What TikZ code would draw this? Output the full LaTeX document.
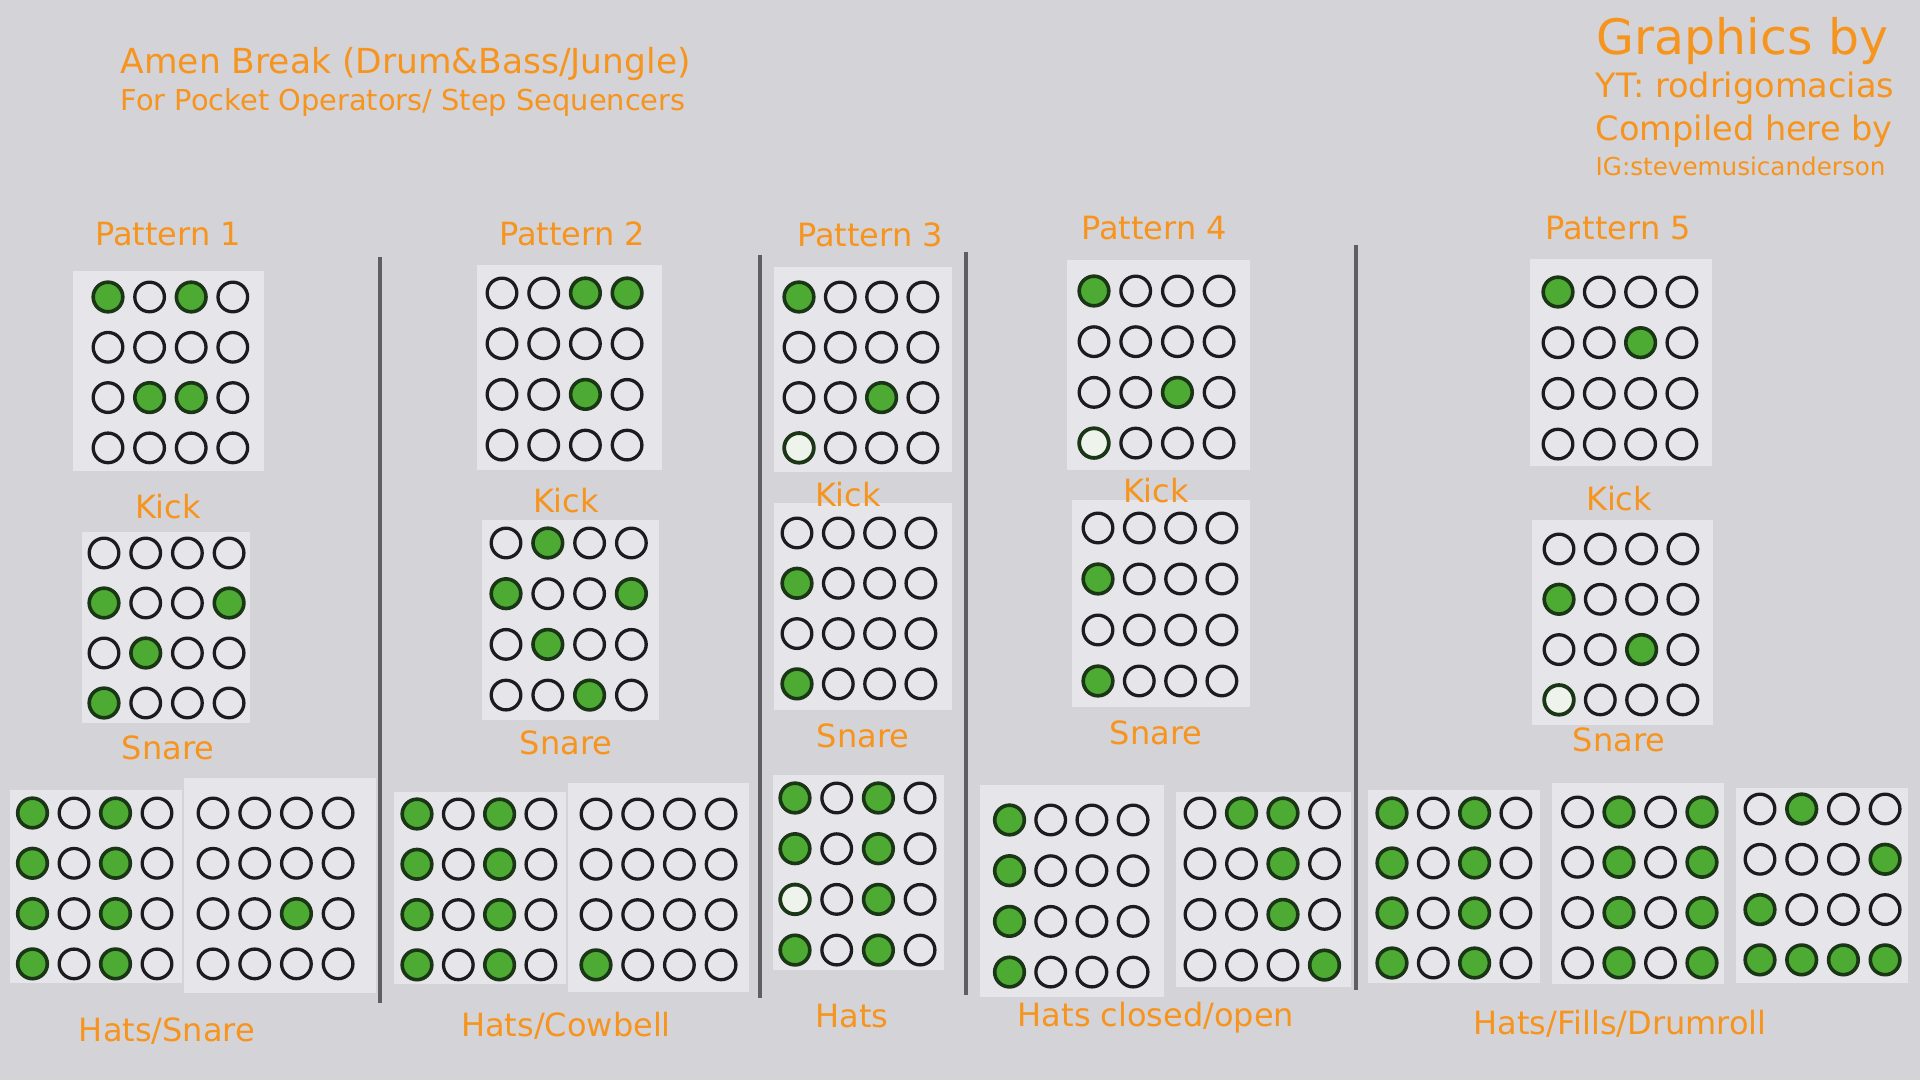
\documentclass[tikz,border=0pt]{standalone}
\usepackage{fontspec}
\setmainfont{DejaVu Sans}
\usetikzlibrary{positioning}
\definecolor{Naranja}{HTML}{F7941D}
\definecolor{Fondo}{HTML}{D3D3D8}
\definecolor{Panel}{HTML}{E6E6EA}
\definecolor{Verde}{HTML}{4DAA33}
\definecolor{VerdeOscuro}{HTML}{1B3517}
\definecolor{VerdeClaro}{HTML}{EEF4EC}
\definecolor{GrisOscuro}{HTML}{5E5E63}
\definecolor{Borde}{HTML}{1C1C1E}

\tikzset{
  padoff/.style={draw=Borde,fill=Panel,line width=0.33mm},
  padon/.style={draw=VerdeOscuro,fill=Verde,line width=0.36mm},
  padpale/.style={draw=VerdeOscuro,fill=VerdeClaro,line width=0.38mm},
  etiqueta/.style={text=Naranja,inner sep=0pt,anchor=base,font=\fontsize{9.1}{10}\selectfont},
  texto/.style={text=Naranja,inner sep=0pt,anchor=base west},
  separador/.style={GrisOscuro,line width=0.4mm}
}

% one pad: 0 off, 1 on, 2 pale
\newcommand{\pad}[3]{%
  \ifcase#3\relax \draw[padoff] (#1,#2) circle[radius=1.48mm];%
  \or \draw[padon] (#1,#2) circle[radius=1.48mm];%
  \or \draw[padpale] (#1,#2) circle[radius=1.48mm];\fi}

% 4x4 grid: first pad x, y, step x, step y, panel, rows
\newcommand{\padgrid}[6]{%
  \fill[Panel] #5;
  \foreach \pa/\pb/\pc/\pd [count=\fila from 0] in {#6}{
    \foreach \s [count=\col from 0] in {\pa,\pb,\pc,\pd}{
      \pad{#1+\col*#3}{#2+\fila*#4}{\s}
    }
  }}

\begin{document}
\begin{tikzpicture}[x=0.01cm,y=-0.01cm]
  \fill[Fondo] (0,0) rectangle (1920,1080);
  \useasboundingbox (0,0) rectangle (1920,1080);
  % cabecera
  \node[texto,font=\fontsize{9.8}{11}\selectfont] (titulo) at (120,74)
    {Amen Break (Drum\&Bass/Jungle)};
  \node[texto,font=\fontsize{8.2}{10}\selectfont] (subtitulo) at (120,111)
    {For Pocket Operators/ Step Sequencers};
  \node[texto,font=\fontsize{13.9}{16}\selectfont] (graficos) at (1596,55) {Graphics by};
  \node[texto,font=\fontsize{9.55}{11}\selectfont] (youtube) at (1595,98) {YT: rodrigomacias};
  \node[texto,font=\fontsize{9.55}{11}\selectfont] (compilado) at (1595,141) {Compiled here by};
  \node[texto,font=\fontsize{7.0}{8}\selectfont] (instagram) at (1595,176) {IG:stevemusicanderson};

  % separadores
  \foreach \x/\ya/\yb in {380/257/1003,760/255/998,966/252/995,1356/245/990}
    \draw[separador] (\x,\ya) -- (\x,\yb);

  % kick / snare
  \padgrid{108}{297}{41.6}{50.3}{(73,271) rectangle (264,471)}{1/0/1/0,0/0/0/0,0/1/1/0,0/0/0/0}
  \padgrid{104}{553}{41.7}{50}{(82,532) rectangle (250,723)}{0/0/0/0,1/0/0/1,0/1/0/0,1/0/0/0}
  \padgrid{502}{293}{41.7}{50.7}{(477,265) rectangle (662,470)}{0/0/1/1,0/0/0/0,0/0/1/0,0/0/0/0}
  \padgrid{506}{543}{41.8}{50.7}{(482,520) rectangle (659,720)}{0/1/0/0,1/0/0/1,0/1/0/0,0/0/1/0}
  \padgrid{799}{297}{41.3}{50.3}{(774,267) rectangle (952,472)}{1/0/0/0,0/0/0/0,0/0/1/0,2/0/0/0}
  \padgrid{797}{533}{41.3}{50.3}{(774,503) rectangle (952,710)}{0/0/0/0,1/0/0/0,0/0/0/0,1/0/0/0}
  \padgrid{1094}{291}{41.7}{50.7}{(1067,260) rectangle (1250,470)}{1/0/0/0,0/0/0/0,0/0/1/0,2/0/0/0}
  \padgrid{1098}{528}{41.3}{51}{(1072,500) rectangle (1250,707)}{0/0/0/0,1/0/0/0,0/0/0/0,1/0/0/0}
  \padgrid{1558}{292}{41.3}{50.7}{(1530,259) rectangle (1712,466)}{1/0/0/0,0/0/1/0,0/0/0/0,0/0/0/0}
  \padgrid{1559}{549}{41.3}{50.3}{(1532,520) rectangle (1713,725)}{0/0/0/0,1/0/0/0,0/0/1/0,2/0/0/0}

  % hats
  \padgrid{32.5}{813}{41.5}{50.3}{(10,790) rectangle (182,983)}{1/0/1/0,1/0/1/0,1/0/1/0,1/0/1/0}
  \padgrid{213}{813}{41.7}{50.3}{(184,778) rectangle (376,993)}{0/0/0/0,0/0/0/0,0/0/1/0,0/0/0/0}
  \padgrid{417}{814}{41.3}{50.3}{(394,792) rectangle (566,984)}{1/0/1/0,1/0/1/0,1/0/1/0,1/0/1/0}
  \padgrid{596}{814}{41.7}{50.3}{(568,783) rectangle (749,992)}{0/0/0/0,0/0/0/0,0/0/0/0,1/0/0/0}
  \padgrid{795}{798}{41.7}{50.7}{(773,775) rectangle (944,970)}{1/0/1/0,1/0/1/0,2/0/1/0,1/0/1/0}
  \padgrid{1009.5}{820}{41.2}{50.7}{(980,785) rectangle (1164,997)}{1/0/0/0,1/0/0/0,1/0/0/0,1/0/0/0}
  \padgrid{1200}{813}{41.5}{50.7}{(1176,792) rectangle (1351,987)}{0/1/1/0,0/0/1/0,0/0/1/0,0/0/0/1}
  \padgrid{1392}{813}{41.3}{50}{(1368,790) rectangle (1540,983)}{1/0/1/0,1/0/1/0,1/0/1/0,1/0/1/0}
  \padgrid{1577.5}{812}{41.5}{50.3}{(1552,783) rectangle (1724,984)}{0/1/0/1,0/1/0/1,0/1/0/1,0/1/0/1}
  \padgrid{1760}{809}{41.7}{50.3}{(1736,788) rectangle (1908,983)}{0/1/0/0,0/0/0/1,1/0/0/0,1/1/1/1}

  % etiquetas
  \foreach \x/\y/\lab/\nom in {168/246/Pattern 1/pat1,572/246/Pattern 2/pat2,
      870/247/Pattern 3/pat3,1154/240/Pattern 4/pat4,1618/240/Pattern 5/pat5,
      168/519/Kick/kick1,566/513/Kick/kick2,848/507/Kick/kick3,
      1156/503/Kick/kick4,1619/511/Kick/kick5,
      168/760/Snare/snare1,566/755/Snare/snare2,863/748/Snare/snare3,
      1156/745/Snare/snare4,1619/752/Snare/snare5,
      167/1042/Hats\slash Snare/hats1,566/1037/Hats\slash Cowbell/hats2,
      852/1028/Hats/hats3,1156/1027/Hats closed\slash open/hats4,
      1620/1035/Hats\slash Fills\slash Drumroll/hats5}
    \node[etiqueta] (\nom) at (\x,\y) {\lab};
\end{tikzpicture}
\end{document}
